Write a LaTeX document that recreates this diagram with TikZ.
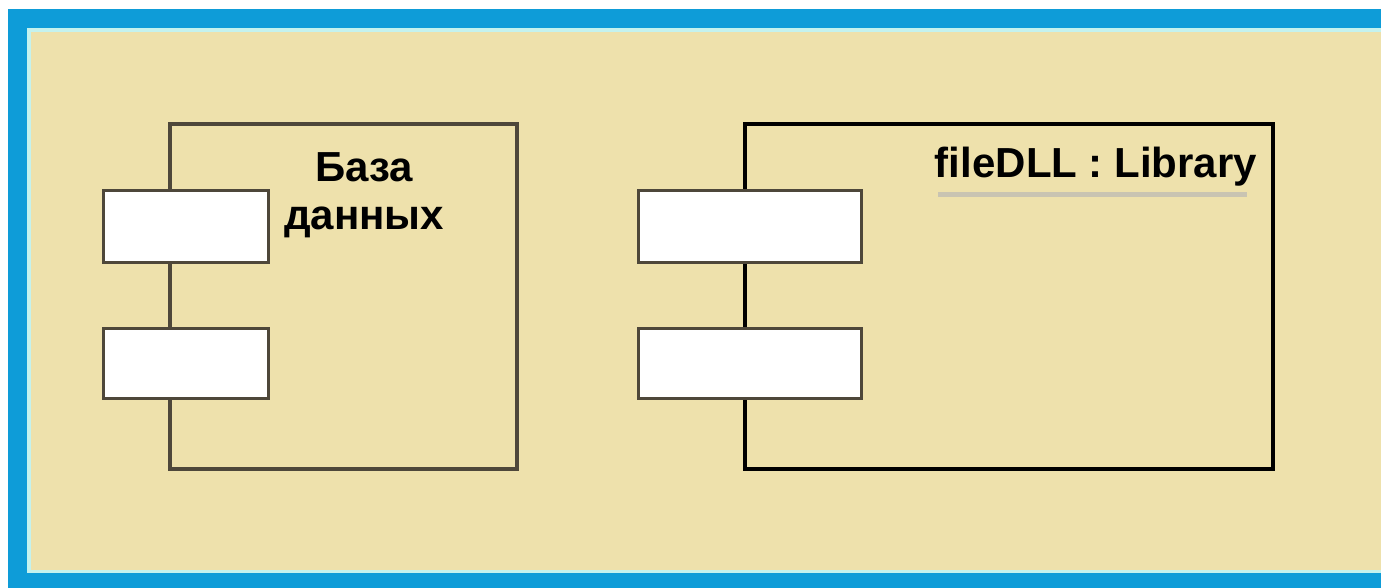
\documentclass[tikz,border=0pt]{standalone}
\usepackage{fontspec}
\setmainfont{Liberation Sans}
\usepackage{xcolor}
\usetikzlibrary{positioning, calc}

\definecolor{frameblue}{HTML}{0E9CD8}
\definecolor{framecyan}{HTML}{C4F2EE}
\definecolor{paper}{HTML}{EEE1AC}
\definecolor{edgebrown}{HTML}{4E473A}
\definecolor{shadowgrey}{HTML}{C9C4B2}

\begin{document}
\begin{tikzpicture}[
        x=1pt, y=-1pt,
        body/.style={rectangle, draw=edgebrown, fill=paper, line width=3.5pt, inner sep=0pt},
        port/.style={rectangle, draw=edgebrown, fill=white, line width=3pt, inner sep=0pt},
        title/.style={font=\bfseries\fontsize{42}{48}\selectfont, inner sep=0pt, align=center}
    ]
        \useasboundingbox (0,0) rectangle (1381,587);
        \clip (0,0) rectangle (1381,587);

        % ================= FRAME =================
        \fill[frameblue] (8,9) rectangle (1400,600);
        \fill[framecyan] (27,28) rectangle (1400,573);
        \fill[paper] (31,32) rectangle (1400,570);

        % ================= BASE DE DATOS =================
        \node[body, minimum width=347pt, minimum height=345pt] (dbBody) at (343.5,296.5) {};
        \node[port, minimum width=165pt, minimum height=72pt] (dbPortA) at (185.5,226) {};
        \node[port, minimum width=165pt, minimum height=70pt] (dbPortB) at (185.5,363) {};
        \node[title, anchor=north] (dbLabel) at (364,152) {База\\данных};

        % ================= LIBRARY =================
        \node[body, draw=black, minimum width=528pt, minimum height=345pt] (dllBody) at (1009,296.5) {};
        \node[port, minimum width=223pt, minimum height=72pt] (dllPortA) at (749.5,226) {};
        \node[port, minimum width=223pt, minimum height=70pt] (dllPortB) at (749.5,363) {};
        \node[title, anchor=base] (dllLabel) at (1096,177) {fileDLL : Library};
        \fill[shadowgrey] ([xshift=3pt, yshift=-6pt]dllLabel.south west) rectangle ([xshift=-10pt, yshift=-11pt]dllLabel.south east);

    \end{tikzpicture}
\end{document}
